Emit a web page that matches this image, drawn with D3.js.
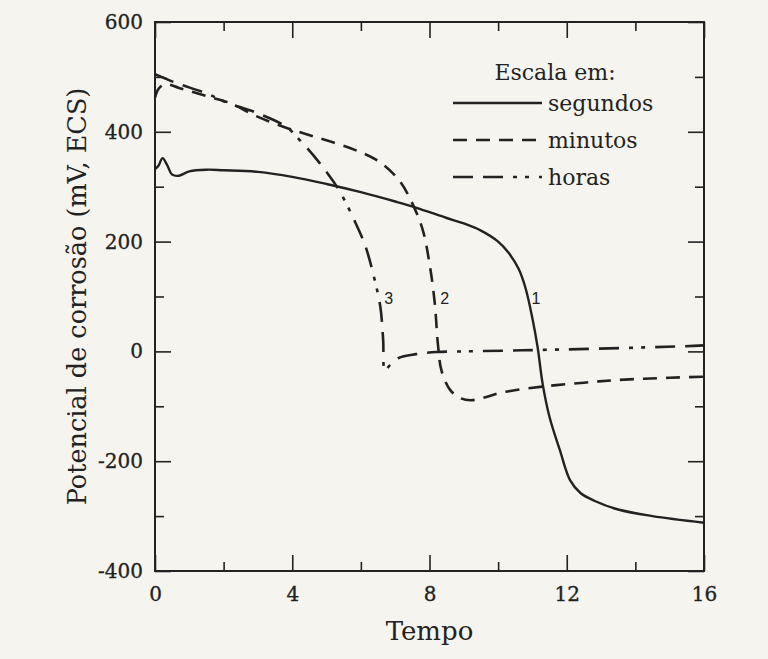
<!DOCTYPE html>
<html>
<head>
<meta charset="utf-8">
<script src="https://cdn.jsdelivr.net/npm/d3@7"></script>
<style>
  body { margin: 0; background: #f6f4ee; }
  svg { display: block; }
</style>
</head>
<body>
<svg width="768" height="659"></svg>
<script>
// curve values: [tempo, mV]
var segundos = [[0,332],[0.1,338],[0.22,352],[0.35,340],[0.5,322],[0.7,320],[1,328],[1.5,331],[2,330],[3,327],
    [4,318],[5,305],[6,290],[7,273],[7.6,262],[8.5,243],[9,233],[9.5,220],[10,200],[10.3,180],[10.6,150],
    [10.8,115],[11,60],[11.15,8],[11.3,-60],[11.5,-120],[11.8,-180],[12.1,-235],[12.4,-258],[12.8,-272],
    [13.5,-288],[14.5,-300],[16,-312]];
var minutos = [[0,462],[0.1,478],[0.3,487],[0.7,480],[1.5,465],[2.2,452],[2.9,430],[3.8,408],[4.6,392],
    [5.7,370],[6.5,347],[7.1,313],[7.45,276],[7.8,222],[8.0,160],[8.15,90],[8.25,10],[8.35,-35],[8.6,-70],
    [8.9,-85],[9.2,-89],[9.6,-84],[10.1,-75],[11.3,-64],[12.5,-57],[13.5,-52],[15,-48],[16,-46]];
var horas = [[0,505],[0.3,497],[0.7,487],[1.5,470],[2.1,453],[2.9,436],[3.8,410],[4.25,383],[4.8,343],
    [5.35,295],[5.8,240],[6.13,192],[6.4,131],[6.57,80],[6.65,20],[6.7,-34],[6.85,-25],[7.1,-12],[7.6,-5],
    [8.2,-1],[9,0],[10.7,2],[12.9,5],[15.7,10],[16,11]];

var xMajor = [0, 4, 8, 12, 16];
var xMinor = [2, 6, 10, 14];
var yMajor = [-400, -200, 0, 200, 400, 600];
var yMinor = [-300, -100, 100, 300, 500];

// curve numbers: [label, tempo, mV]
var curveLabels = [['1', 10.97, 86], ['2', 8.31, 86], ['3', 6.68, 86]];

var legendNames = ['segundos', 'minutos', 'horas'];
var legendTitle = 'Escala em:';

var ink = '#222';
var serif = "'DejaVu Serif', serif";
var dashes = ['none', '14,9', '20,10,20,10,4,8,4,10'];

var svg = d3.select('svg');
var padding = {t: 22, r: 64, b: 88, l: 155};
var chartWidth = 768 - padding.l - padding.r;
var chartHeight = 659 - padding.t - padding.b;

var chartG = svg.append('g')
    .attr('transform', 'translate(' + [padding.l, padding.t] + ')');

var xScale = d3.scaleLinear().domain([0, 16]).range([0, chartWidth]);
var yScale = d3.scaleLinear().domain([-400, 600]).range([chartHeight, 0]);

function styleAxis(g, labels) {
    g.select('.domain').remove();
    g.selectAll('.tick line').attr('stroke', ink).attr('stroke-width', 1.6);
    g.selectAll('.tick text')
        .attr('fill', ink)
        .attr('stroke', ink)
        .attr('stroke-width', 0.3)
        .style('font-family', serif)
        .style('font-size', '20px')
        .style('display', labels ? null : 'none');
}

// major + minor ticks, all pointing inwards on all four sides
chartG.append('g').attr('transform', 'translate(0,' + chartHeight + ')')
    .call(d3.axisBottom(xScale).tickValues(xMajor).tickSize(-16).tickPadding(16).tickFormat(d3.format('d')))
    .call(styleAxis, true);
chartG.append('g').attr('transform', 'translate(0,' + chartHeight + ')')
    .call(d3.axisBottom(xScale).tickValues(xMinor).tickSize(-9))
    .call(styleAxis, false);
chartG.append('g')
    .call(d3.axisTop(xScale).tickValues(xMajor).tickSize(-16))
    .call(styleAxis, false);
chartG.append('g')
    .call(d3.axisTop(xScale).tickValues(xMinor).tickSize(-9))
    .call(styleAxis, false);
chartG.append('g')
    .call(d3.axisLeft(yScale).tickValues(yMajor).tickSize(-16).tickPadding(12).tickFormat(d3.format('d')))
    .call(styleAxis, true);
chartG.append('g')
    .call(d3.axisLeft(yScale).tickValues(yMinor).tickSize(-9))
    .call(styleAxis, false);
chartG.append('g').attr('transform', 'translate(' + chartWidth + ',0)')
    .call(d3.axisRight(yScale).tickValues(yMajor).tickSize(-16))
    .call(styleAxis, false);
chartG.append('g').attr('transform', 'translate(' + chartWidth + ',0)')
    .call(d3.axisRight(yScale).tickValues(yMinor).tickSize(-9))
    .call(styleAxis, false);

// hyphen-minus like the scan instead of the unicode minus
chartG.selectAll('.tick text').text(function() { return this.textContent.replace('\u2212', '-'); });

chartG.append('rect')
    .attr('width', chartWidth)
    .attr('height', chartHeight)
    .attr('fill', 'none')
    .attr('stroke', ink)
    .attr('stroke-width', 2);

var line = d3.line()
    .x(function(d) { return xScale(d[0]); })
    .y(function(d) { return yScale(d[1]); })
    .curve(d3.curveCatmullRom.alpha(0.5));

[segundos, minutos, horas].forEach(function(series, i) {
    chartG.append('path')
        .datum(series)
        .attr('d', line)
        .attr('fill', 'none')
        .attr('stroke', ink)
        .attr('stroke-width', i == 0 ? 2.4 : 2.6)
        .attr('stroke-dasharray', dashes[i]);
});

chartG.selectAll('.curve-label')
    .data(curveLabels).enter()
    .append('text')
    .attr('class', 'curve-label')
    .attr('x', function(d) { return xScale(d[1]); })
    .attr('y', function(d) { return yScale(d[2]); })
    .attr('fill', ink)
    .style('font-family', "'Liberation Sans', sans-serif")
    .style('font-size', '16px')
    .text(function(d) { return d[0]; });

// legend
var legendG = svg.append('g');
legendG.append('text')
    .attr('x', 555)
    .attr('y', 80)
    .attr('text-anchor', 'middle')
    .attr('fill', ink)
    .style('font-family', serif)
    .style('font-size', '22px')
    .text(legendTitle);

legendNames.forEach(function(name, i) {
    var ly = 103 + i * 37;
    legendG.append('line')
        .attr('x1', 453).attr('x2', 542)
        .attr('y1', ly).attr('y2', ly)
        .attr('stroke', ink)
        .attr('stroke-width', 2.6)
        .attr('stroke-dasharray', dashes[i]);
    legendG.append('text')
        .attr('x', 548)
        .attr('y', ly + 8)
        .attr('fill', ink)
        .style('font-family', serif)
        .style('font-size', '22px')
        .text(name);
});

// axis titles
svg.append('text')
    .attr('x', padding.l + chartWidth / 2)
    .attr('y', 640)
    .attr('text-anchor', 'middle')
    .attr('fill', ink)
    .style('font-family', serif)
    .style('font-size', '26px')
    .text('Tempo');

svg.append('text')
    .attr('transform', 'translate(86,' + (padding.t + chartHeight / 2) + ') rotate(-90)')
    .attr('text-anchor', 'middle')
    .attr('fill', ink)
    .style('font-family', serif)
    .style('font-size', '25.5px')
    .text('Potencial de corrosão (mV, ECS)');
</script>
</body>
</html>
